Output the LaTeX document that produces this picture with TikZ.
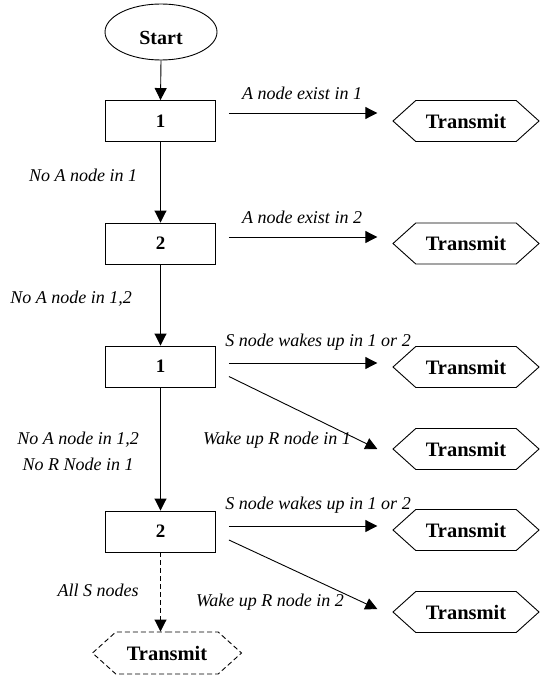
\documentclass[tikz,border=0pt]{standalone}
\usepackage{fontspec}
\setmainfont{Liberation Serif}
\usetikzlibrary{shapes.geometric,shapes.symbols,arrows.meta}
\tikzset{
  startbox/.style={ellipse,draw,line width=0.9pt,minimum width=112pt,minimum height=56pt,inner sep=0pt,
    font=\fontsize{20}{20}\selectfont\bfseries,text height=25pt,text depth=0pt},
  stepbox/.style={rectangle,draw,line width=0.9pt,minimum width=110pt,minimum height=41pt,inner sep=0pt,
    font=\fontsize{19}{19}\selectfont\bfseries},
  hexbox/.style={signal,signal to=west and east,signal pointer angle=84,draw,line width=0.9pt,
    minimum width=146pt,minimum height=41pt,inner sep=0pt,font=\fontsize{20.5}{20.5}\selectfont\bfseries},
  lab/.style={font=\fontsize{18}{18}\selectfont\itshape,inner sep=0pt},
  arr/.style={line width=0.9pt,-{Triangle[length=12pt,width=12pt]}},
  dashline/.style={dash pattern=on 5pt off 3pt},
}
\begin{document}
\begin{tikzpicture}[x=1pt,y=-1pt]
\useasboundingbox (0,0) rectangle (540,677);
% main column
\node[startbox] (s) at (161,32) {Start};
\node[stepbox] (b1) at (160.5,121) {1};
\node[stepbox] (b2) at (160.5,243.5) {2};
\node[stepbox] (b3) at (160.5,366.5) {1};
\node[stepbox] (b4) at (160.5,531.5) {2};
% transmit boxes
\node[hexbox] (t1) at (466,121) {Transmit};
\node[hexbox] (t2) at (466,243.5) {Transmit};
\node[hexbox] (t3) at (466,367) {Transmit};
\node[hexbox] (t4) at (466,449) {Transmit};
\node[hexbox] (t5) at (466,530) {Transmit};
\node[hexbox] (t6) at (466,612) {Transmit};
\node[hexbox,dashline,minimum width=149pt,minimum height=42pt] (tx) at (167,653) {Transmit};
% vertical arrows
\draw[arr] (s.south) -- (b1.north);
\draw[arr] (b1.south) -- (b2.north);
\draw[arr] (b2.south) -- (b3.north);
\draw[arr] (b3.south) -- (b4.north);
\draw[arr,dashline] (b4.south) -- (b4.south |- tx.north);
% side arrows
\draw[arr] ([xshift=13pt,yshift=8pt]b1.east) -- ([xshift=-15pt,yshift=8pt]t1.west);
\draw[arr] ([xshift=13pt,yshift=6.5pt]b2.east) -- ([xshift=-15pt,yshift=6.5pt]t2.west);
\draw[arr] ([xshift=13pt,yshift=3.5pt]b3.east) -- ([xshift=-15pt,yshift=4pt]t3.west);
\draw[arr] ([xshift=13pt,yshift=-10pt]b3.east) -- ([xshift=-15pt]t4.west);
\draw[arr] ([xshift=13pt,yshift=5.5pt]b4.east) -- ([xshift=-15pt,yshift=4pt]t5.west);
\draw[arr] ([xshift=13pt,yshift=-8.5pt]b4.east) -- ([xshift=-15pt,yshift=3pt]t6.west);
% labels
\node[lab] (l1) at (302,93) {A node exist in 1};
\node[lab] (l2) at (302,217) {A node exist in 2};
\node[lab] (l3) at (83,175) {No A node in 1};
\node[lab] (l4) at (71,299) {No A node in 1,2};
\node[lab] (l5) at (318,342) {S node wakes up in 1 or 2};
\node[lab] (l6) at (277,440) {Wake up R node in 1};
\node[lab] (l7) at (78,440) {No A node in 1,2};
\node[lab] (l8) at (78,464) {No R Node in 1};
\node[lab] (l9) at (318,505) {S node wakes up in 1 or 2};
\node[lab] (l10) at (270,602) {Wake up R node in 2};
\node[lab] (l11) at (98,590) {All S nodes};
\end{tikzpicture}
\end{document}
